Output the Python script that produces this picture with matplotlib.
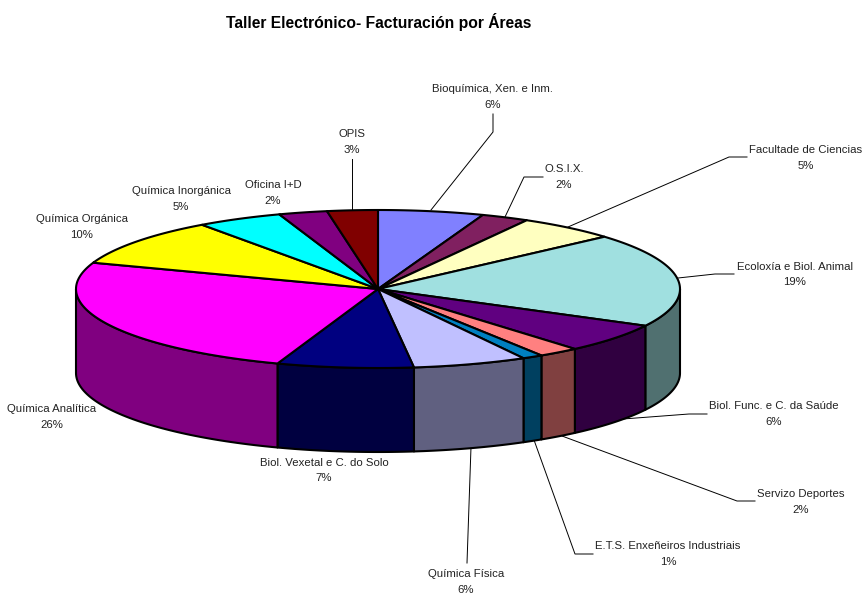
import numpy as np
import matplotlib
matplotlib.use('Agg')
import matplotlib.pyplot as plt

plt.rcParams['font.family'] = ['Liberation Sans', 'DejaVu Sans']

# Slices, clockwise from 12 o'clock
areas = ['Bioquímica, Xen. e Inm.', 'O.S.I.X.', 'Facultade de Ciencias',
         'Ecoloxía e Biol. Animal', 'Biol. Func. e C. da Saúde', 'Servizo Deportes',
         'E.T.S. Enxeñeiros Industriais', 'Química Física', 'Biol. Vexetal e C. do Solo',
         'Química Analítica', 'Química Orgánica', 'Química Inorgánica', 'Oficina I+D', 'OPIS']
shares = [5.65, 2.55, 5.3, 19.2, 6.0, 2.2, 1.1, 6.1, 7.3, 25.0, 9.7, 4.6, 2.6, 2.7]
percent_labels = ['6%', '2%', '5%', '19%', '6%', '2%', '1%', '6%', '7%', '26%', '10%', '5%', '2%', '3%']
top_colors = ['#8080FF', '#802060', '#FFFFC0', '#A0E0E0', '#600080', '#FF8080', '#0080C0',
              '#C0C0FF', '#000080', '#FF00FF', '#FFFF00', '#00FFFF', '#800080', '#800000']
side_colors = ['#404080', '#401030', '#808060', '#507070', '#300040', '#804040', '#004060',
               '#606080', '#000040', '#800080', '#808000', '#008080', '#400040', '#400000']

# Label centres and leader lines, in pixels
label_pos = [(493, 97), (564, 177), (805.5, 158), (795, 274.5), (774, 414), (801, 502), (668, 554),
             (466, 582), (324, 470.5), (52, 417), (82, 227), (181, 199), (273, 193), (352, 142)]
leaders = {
    0: [(431, 210), (493, 132), (493, 114)],
    1: [(505, 217), (524, 177), (543, 177)],
    2: [(568, 227), (729, 157), (747, 157)],
    3: [(678, 278), (715, 274), (734, 274)],
    4: [(623, 419), (689, 414), (707, 414)],
    5: [(562, 436), (737, 501), (755, 501)],
    6: [(534, 440), (575, 554), (593, 554)],
    7: [(471, 447), (467, 563)],
    13: [(352, 209), (352, 159)],
}

# Pie geometry
cx, cy = 378, 289
rx, ry = 302, 79
depth = 84


def rim(theta):
    return cx + rx * np.sin(theta), cy - ry * np.cos(theta)


fig = plt.figure(figsize=(8.64, 5.95), dpi=100)
ax = fig.add_axes([0, 0, 1, 1])
ax.set_xlim(0, 864)
ax.set_ylim(595, 0)
ax.axis('off')

edges = np.cumsum([0] + shares) / sum(shares) * 2 * np.pi
lw = 1.5

# Front wall, only the part of each slice facing the viewer
for i in range(len(shares)):
    a = max(edges[i], np.pi / 2)
    b = min(edges[i + 1], 3 * np.pi / 2)
    if b <= a:
        continue
    t = np.linspace(a, b, 60)
    x, y = rim(t)
    ax.fill(np.r_[x, x[::-1]], np.r_[y, y[::-1] + depth], facecolor=side_colors[i],
            edgecolor='black', lw=lw, joinstyle='round', zorder=2)

# Top face
for i in range(len(shares)):
    t = np.linspace(edges[i], edges[i + 1], 80)
    x, y = rim(t)
    ax.fill(np.r_[cx, x], np.r_[cy, y], facecolor=top_colors[i],
            edgecolor='black', lw=lw, joinstyle='round', zorder=3)

for i, pts in leaders.items():
    ax.plot([p[0] for p in pts], [p[1] for p in pts], color='black', lw=0.7, zorder=1)

for name, pct, (lx, ly) in zip(areas, percent_labels, label_pos):
    ax.text(lx, ly, name + '\n' + pct, ha='center', va='center', fontsize=8.2,
            linespacing=1.72, color='#222222', zorder=4)

ax.text(378.5, 22, 'Taller Electrónico- Facturación por Áreas', ha='center', va='center',
        fontsize=11.25, fontweight='bold', color='black')

fig.savefig('out.png', dpi=100)
